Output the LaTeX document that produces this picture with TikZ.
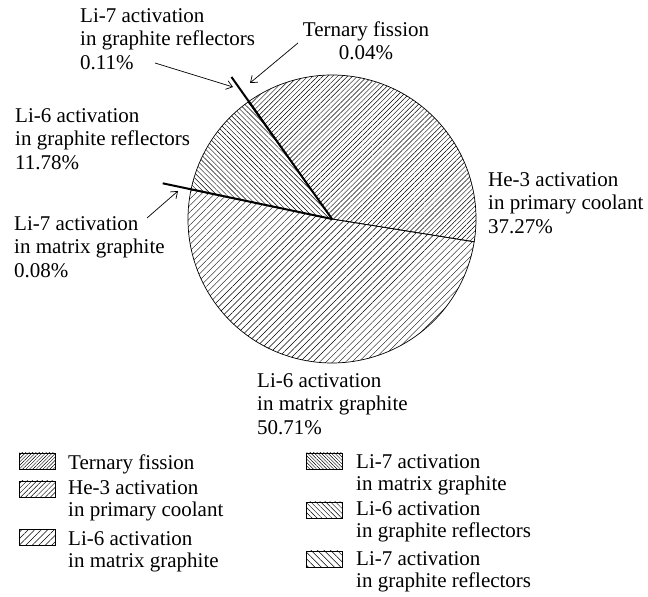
\documentclass[tikz,border=0pt]{standalone}
\usepackage{fontspec}
\setmainfont{Liberation Serif}
\usepackage{tikz}
\usetikzlibrary{arrows.meta,patterns.meta}

\tikzset{
  pTernary/.style={pattern={Lines[angle=45,distance=2.4pt,line width=0.45pt]}},
  pHeThree/.style={pattern={Lines[angle=45,distance=3.5pt,line width=0.45pt]}},
  pLiSixMat/.style={pattern={Lines[angle=45,distance=4.6pt,line width=0.45pt]}},
  pLiSevenMat/.style={pattern={Lines[angle=-45,distance=2.4pt,line width=0.45pt]}},
  pLiSixRefl/.style={pattern={Lines[angle=-45,distance=3.5pt,line width=0.45pt]}},
  pLiSevenRefl/.style={pattern={Lines[angle=-45,distance=4.6pt,line width=0.45pt]}},
  slice/.style={line width=0.7pt},
  sliceline/.style={line width=2pt},
  legbox/.style={draw,line width=0.7pt,minimum width=36pt,minimum height=16pt,inner sep=0pt},
  lbl/.style={align=left,anchor=north west,inner sep=0pt},
  lgd/.style={lbl,font=\fontsize{21}{22}\selectfont},
  callout/.style={-{Straight Barb[length=6pt,width=9pt]},line width=0.7pt}
}

\begin{document}
\begin{tikzpicture}[x=1pt,y=1pt,font=\fontsize{21}{23.5}\selectfont]
  \useasboundingbox (0,0) rectangle (648,597);
  \coordinate (ctr) at (332,378);
  \draw[slice,pHeThree] (ctr) -- ++(-9.1:144) arc[start angle=-9.1,end angle=125.07,radius=144] -- cycle;
  \draw[slice,pLiSixRefl] (ctr) -- ++(125.6:144) arc[start angle=125.6,end angle=168.0,radius=144] -- cycle;
  \draw[slice,pLiSixMat] (ctr) -- ++(168.3:144) arc[start angle=168.3,end angle=350.9,radius=144] -- cycle;
  \draw[sliceline] (ctr) -- ++(125.3:174) coordinate (endRefl);
  \draw[sliceline] (ctr) -- ++(168.1:173) coordinate (endMat);

  \node[lbl] (tLiSevenRefl) at (80,589) {Li-7 activation\\in graphite reflectors\\0.11\%};
  \node[align=center,anchor=north,inner sep=0pt] (tTernary) at (366,575.5) {Ternary fission\\0.04\%};
  \node[lbl] (tLiSixRefl) at (15,489) {Li-6 activation\\in graphite reflectors\\11.78\%};
  \node[lbl] (tLiSevenMat) at (14,381) {Li-7 activation\\in matrix graphite\\0.08\%};
  \node[lbl] (tHeThree) at (488,425) {He-3 activation\\in primary coolant\\37.27\%};
  \node[lbl] (tLiSixMat) at (257,224) {Li-6 activation\\in matrix graphite\\50.71\%};

  \coordinate (aRefl) at (155,534);
  \coordinate (hRefl) at (233,510);
  \coordinate (aTern) at (298,554);
  \coordinate (hTern) at (250,514);
  \coordinate (aMat) at (147,379);
  \coordinate (hMat) at (178,406);
  \draw[callout] (aRefl) -- (hRefl);
  \draw[callout] (aTern) -- (hTern);
  \draw[callout] (aMat) -- (hMat);

  \node[legbox,pTernary] (kTernary) at (37,136) {};
  \node[legbox,pHeThree] (kHeThree) at (37,108) {};
  \node[legbox,pLiSixMat] (kLiSixMat) at (37,59.5) {};
  \node[legbox,pLiSevenMat] (kLiSevenMat) at (324.5,136) {};
  \node[legbox,pLiSixRefl] (kLiSixRefl) at (324.5,87) {};
  \node[legbox,pLiSevenRefl] (kLiSevenRefl) at (324.5,38) {};
  \node[lgd] (gTernary) at (68,142) {Ternary fission};
  \node[lgd] (gHeThree) at (68,117) {He-3 activation\\in primary coolant};
  \node[lgd] (gLiSixMat) at (68,66) {Li-6 activation\\in matrix graphite};
  \node[lgd] (gLiSevenMat) at (356,143) {Li-7 activation\\in matrix graphite};
  \node[lgd] (gLiSixRefl) at (356,96) {Li-6 activation\\in graphite reflectors};
  \node[lgd] (gLiSevenRefl) at (356,46) {Li-7 activation\\in graphite reflectors};
\end{tikzpicture}
\end{document}
